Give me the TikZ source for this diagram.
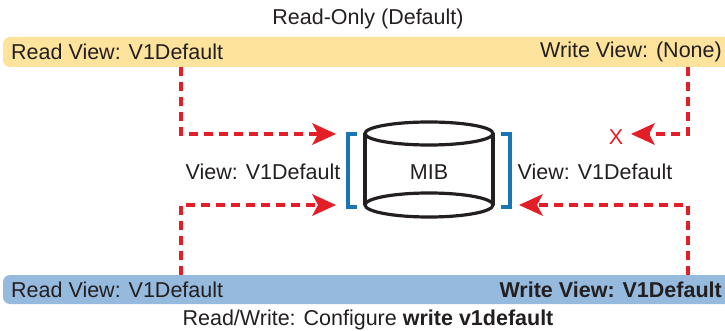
\documentclass[tikz,border=0pt]{standalone}
\usepackage{fontspec}
\setmainfont{Liberation Sans}
\usetikzlibrary{arrows.meta}
\definecolor{txt}{HTML}{231F20}
\definecolor{barY}{HTML}{FDE39C}
\definecolor{barB}{HTML}{95BADD}
\definecolor{redA}{HTML}{E31E26}
\definecolor{blueB}{HTML}{1A75B5}
\begin{document}
\begin{tikzpicture}[x=1pt,y=-1pt,
  every node/.style={text=txt,font=\fontsize{21.5}{25}\selectfont,inner sep=0pt},
  bar/.style={rounded corners=7pt},
  rdash/.style={draw=redA,line width=3.2pt,dash pattern=on 9pt off 6pt},
  rarrow/.style={rdash,-{Stealth[length=24pt,width=22pt,inset=6pt,fill=redA,line width=0pt]}},
  brk/.style={draw=blueB,line width=3.2pt},
  cyl/.style={draw=txt,line width=3.2pt}]
\useasboundingbox (0,0) rectangle (725,331);
\clip (0,0) rectangle (725,331);
% bars
\fill[barY,bar] (3,37) rectangle (735,67);
\fill[barB,bar] (3,275) rectangle (735,304);
\node (title) at (368,19) {Read-Only (Default)};
\node[anchor=west] (tlr) at (11,52) {Read View: V1Default};
\node[anchor=east] (trw) at (722,52) {Write View: (None)};
\node[anchor=west] (blr) at (11,290) {Read View: V1Default};
\node[anchor=east] (brw) at (722,290) {\bfseries Write View: V1Default};
\node (cap) at (368,320) {Read/Write: Configure \textbf{write v1default}};
% cylinder
\draw[cyl] (365,133.5) -- (365,205);
\draw[cyl] (493,133.5) -- (493,205);
\draw[cyl] (429,205) ellipse[x radius=64,y radius=12];
\draw[cyl] (429,133.5) ellipse[x radius=64,y radius=11.5];
\node (mib) at (429,172) {MIB};
% brackets
\draw[brk] (357,134) -- (348,134) -- (348,207) -- (357,207);
\draw[brk] (501,134) -- (510,134) -- (510,207) -- (501,207);
\node (lv) at (263,172) {View: V1Default};
\node (rv) at (595,172) {View: V1Default};
% coordinates
\coordinate (a1) at (181,67);
\coordinate (a2) at (181,134);
\coordinate (a3) at (336,134);
\coordinate (b1) at (181,275);
\coordinate (b2) at (181,205);
\coordinate (b3) at (336,205);
\coordinate (c1) at (688,67);
\coordinate (c2) at (688,134);
\coordinate (c3) at (631,134);
\coordinate (d1) at (688,275);
\coordinate (d2) at (688,205);
\coordinate (d3) at (519,205);
\draw[rarrow] (a1) -- (a2) -- (a3);
\draw[rarrow] (b1) -- (b2) -- (b3);
\draw[rarrow] (c1) -- (c2) -- (c3);
\draw[rarrow] (d1) -- (d2) -- (d3);
\node[text=redA] (x) at (616,137) {X};
\end{tikzpicture}
\end{document}
